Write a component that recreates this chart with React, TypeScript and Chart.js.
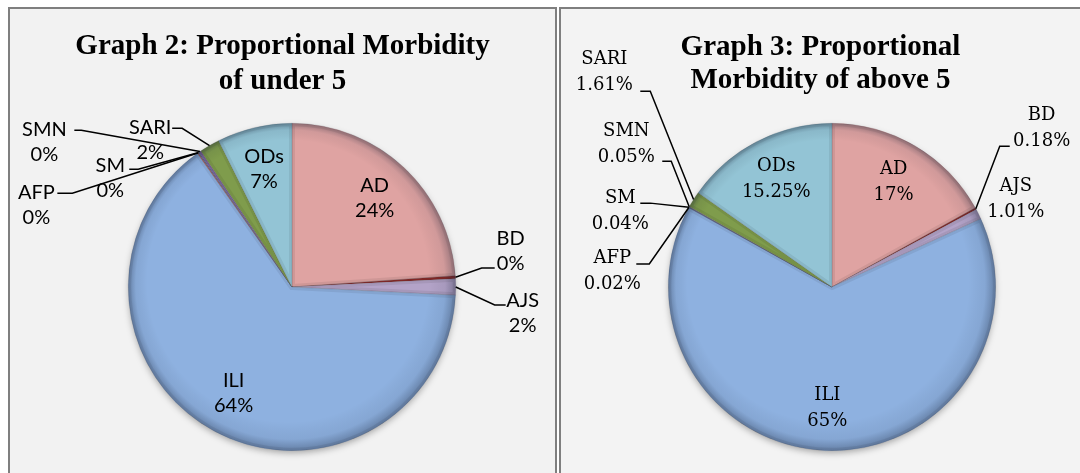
import React, { useEffect, useRef } from "react";
import { Chart, registerables } from "chart.js";

Chart.register(...registerables);

// ---------- data ----------
const categories = ["AD", "BD", "AJS", "ILI", "AFP", "SM", "SMN", "SARI", "ODs"];
const under5Values = [23.9, 0.3, 1.6, 64.4, 0.1, 0.1, 0.2, 2.0, 7.4];
const above5Values = [17, 0.18, 1.01, 65, 0.02, 0.04, 0.05, 1.61, 15.25];
const under5Title = ["Graph 2: Proportional Morbidity", "of under 5"];
const above5Title = ["Graph 3: Proportional", "Morbidity of above 5"];

// ---------- styles ----------
const sliceColors = [
  "#dfa3a2", // AD
  "#8c2b29", // BD
  "#b3a3c8", // AJS
  "#8eb1e0", // ILI
  "#c0504d", // AFP
  "#4f6fa0", // SM
  "#8064a2", // SMN
  "#7f9c4c", // SARI
  "#93c4d5", // ODs
];

type Place =
  | { inside: true }
  | { inside: false; x: number; y: number; leader: number[][] | null };

// label layout, offsets (px at radius 164) relative to the pie centre
const under5Places: Place[] = [
  { inside: true },
  { inside: false, x: 219, y: -36, leader: [[190, -19], [203, -19]] },
  { inside: false, x: 231, y: 26, leader: [[203, 18], [214, 18]] },
  { inside: true },
  { inside: false, x: -256, y: -82, leader: [[-220, -94], [-235, -94]] },
  { inside: false, x: -182, y: -109, leader: [[-154, -118], [-163, -118]] },
  { inside: false, x: -248, y: -145, leader: [[-211, -157], [-218, -157]] },
  { inside: false, x: -142, y: -147, leader: [[-110, -159], [-120, -159]] },
  { inside: true },
];

const above5Places: Place[] = [
  { inside: true },
  { inside: false, x: 210, y: -159, leader: [[168, -141], [178, -141]] },
  { inside: false, x: 184, y: -88, leader: null },
  { inside: true },
  { inside: false, x: -220, y: -16, leader: [[-183, -23], [-196, -23]] },
  { inside: false, x: -212, y: -76, leader: [[-182, -84], [-192, -84]] },
  { inside: false, x: -206, y: -143, leader: [[-161, -126], [-170, -126]] },
  { inside: false, x: -228, y: -215, leader: [[-182, -196], [-192, -196]] },
  { inside: true },
];

type Cfg = {
  values: number[];
  title: string[];
  places: Place[];
  fmt: (v: number) => string;
  labelFont: string;
  lineGap: number;
  width: number;
  height: number;
  padding: { left: number; right: number; top: number; bottom: number };
  titleY: number[];
  bg: string;
};

const fmtRound = (v: number) => `${Math.round(v)}%`;
const fmtExact = (v: number) => (Number.isInteger(v) ? `${v}%` : `${v.toFixed(2)}%`);

const makePlugin = (cfg: Cfg) => ({
  id: "pieDecor",
  beforeDatasetsDraw(chart: any) {
    const ctx: CanvasRenderingContext2D = chart.ctx;
    const arcs = chart.getDatasetMeta(0).data as any[];
    if (!arcs.length) return;
    const { x: cx, y: cy, outerRadius: r } = arcs[0];
    ctx.save();
    ctx.shadowColor = "rgba(0,0,0,0.35)";
    ctx.shadowBlur = 7;
    ctx.shadowOffsetY = 3;
    ctx.fillStyle = cfg.bg;
    ctx.beginPath();
    ctx.arc(cx, cy, r - 1, 0, Math.PI * 2);
    ctx.fill();
    ctx.restore();
  },
  afterDatasetsDraw(chart: any) {
    const ctx: CanvasRenderingContext2D = chart.ctx;
    const meta = chart.getDatasetMeta(0);
    const arcs = meta.data as any[];
    const cx = arcs[0].x;
    const cy = arcs[0].y;
    const r = arcs[0].outerRadius;
    const s = r / 164;

    // bevel edges per slice
    arcs.forEach((arc) => {
      ctx.save();
      ctx.beginPath();
      ctx.moveTo(cx, cy);
      ctx.arc(cx, cy, r, arc.startAngle, arc.endAngle);
      ctx.closePath();
      ctx.clip();
      ctx.lineWidth = 6;
      ctx.strokeStyle = "rgba(0,0,0,0.07)";
      ctx.stroke();
      ctx.restore();
    });

    // rim shading
    ctx.save();
    ctx.beginPath();
    ctx.arc(cx, cy, r, 0, Math.PI * 2);
    ctx.clip();
    const g = ctx.createRadialGradient(cx - 4 * s, cy - 6 * s, r * 0.86, cx, cy, r);
    g.addColorStop(0, "rgba(0,0,0,0)");
    g.addColorStop(0.6, "rgba(20,30,50,0.07)");
    g.addColorStop(1, "rgba(20,30,50,0.34)");
    ctx.fillStyle = g;
    ctx.fillRect(cx - r - 10, cy - r - 10, 2 * r + 20, 2 * r + 20);
    ctx.restore();

    // title
    ctx.save();
    ctx.fillStyle = "#000";
    ctx.textAlign = "center";
    ctx.textBaseline = "middle";
    ctx.font = "bold 29px 'Liberation Serif', serif";
    cfg.title.forEach((line, i) => ctx.fillText(line, chart.width / 2, cfg.titleY[i]));
    ctx.restore();

    // labels
    ctx.save();
    ctx.fillStyle = "#000";
    ctx.strokeStyle = "#000";
    ctx.lineWidth = 1.5;
    ctx.textAlign = "center";
    ctx.textBaseline = "middle";
    ctx.font = cfg.labelFont;
    arcs.forEach((arc, i) => {
      const place = cfg.places[i];
      const name = categories[i];
      const pct = cfg.fmt(cfg.values[i]);
      const mid = (arc.startAngle + arc.endAngle) / 2;
      let lx: number;
      let ly: number;
      if (place.inside) {
        const rr = r * 0.74;
        lx = cx + Math.cos(mid) * rr;
        ly = cy + Math.sin(mid) * rr;
      } else {
        lx = cx + place.x * s;
        ly = cy + place.y * s;
        if (place.leader) {
          ctx.beginPath();
          ctx.moveTo(cx + Math.cos(mid) * r, cy + Math.sin(mid) * r);
          place.leader.forEach(([px, py]) => ctx.lineTo(cx + px * s, cy + py * s));
          ctx.stroke();
        }
      }
      ctx.fillText(name, lx, ly - cfg.lineGap / 2);
      ctx.fillText(pct, lx, ly + cfg.lineGap / 2);
    });
    ctx.restore();
  },
});

function PieChart({ cfg }: { cfg: Cfg }) {
  const ref = useRef<HTMLCanvasElement | null>(null);
  useEffect(() => {
    if (!ref.current) return;
    const chart = new Chart(ref.current, {
      type: "pie",
      data: {
        labels: categories,
        datasets: [
          {
            data: cfg.values,
            backgroundColor: sliceColors,
            borderWidth: 0.5,
            borderColor: "rgba(70,70,80,0.35)",
          },
        ],
      },
      options: {
        responsive: false,
        animation: false,
        layout: { padding: cfg.padding },
        plugins: {
          legend: { display: false },
          tooltip: { enabled: false },
          title: { display: false },
        },
      },
      plugins: [makePlugin(cfg)],
    } as any);
    return () => chart.destroy();
  }, [cfg]);
  return (
    <canvas
      ref={ref}
      width={cfg.width}
      height={cfg.height}
      style={{ position: "absolute", left: 0, top: 0, width: cfg.width, height: cfg.height }}
    />
  );
}

const leftCfg: Cfg = {
  values: under5Values,
  title: under5Title,
  places: under5Places,
  fmt: fmtRound,
  labelFont: "20px Lato, 'Noto Sans', sans-serif",
  lineGap: 25,
  width: 545,
  height: 464,
  padding: { left: 118, right: 99, top: 114, bottom: 22 },
  titleY: [38, 73],
  bg: "#f2f2f2",
};

const rightCfg: Cfg = {
  values: above5Values,
  title: above5Title,
  places: above5Places,
  fmt: fmtExact,
  labelFont: "18px 'DejaVu Serif', serif",
  lineGap: 26,
  width: 519,
  height: 464,
  padding: { left: 107, right: 84, top: 114, bottom: 22 },
  titleY: [39, 72],
  bg: "#f3f3f3",
};

export default function App() {
  const boxBase: React.CSSProperties = {
    position: "absolute",
    top: 7,
    height: 480,
    boxSizing: "border-box",
    border: "2px solid #7f7f7f",
    background: "#f2f2f2",
  };
  return (
    <div
      style={{
        position: "absolute",
        left: 0,
        top: 0,
        width: 1080,
        height: 473,
        overflow: "hidden",
        background: "#fff",
      }}
    >
      <div style={{ ...boxBase, left: 8, width: 549 }}>
        <PieChart cfg={leftCfg} />
      </div>
      <div style={{ ...boxBase, left: 559, width: 540, background: "#f3f3f3" }}>
        <PieChart cfg={rightCfg} />
      </div>
    </div>
  );
}
